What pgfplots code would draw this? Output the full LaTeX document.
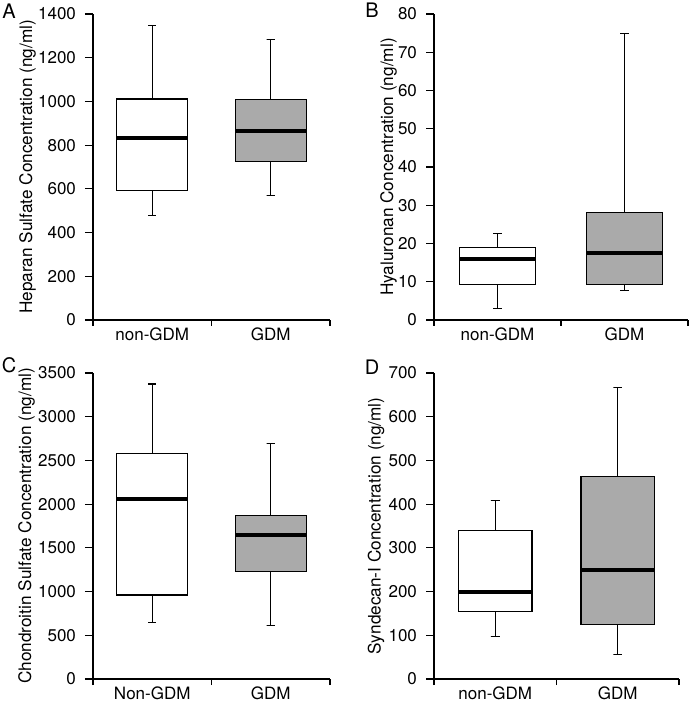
\documentclass[border=0pt]{standalone}
\usepackage{pgfplots}
\pgfplotsset{compat=1.18}
\usepackage{fontspec}
\setmainfont{TeX Gyre Heros}
\definecolor{boxgray}{RGB}{170,170,170}
\pgfplotsset{
  panel/.style={
    scale only axis,
    axis x line=bottom, axis y line=left,
    axis line style={-, line width=0.6pt},
    xmin=0, xmax=2, ymin=0,
    xtick={0.5,1.5},
    minor xtick={0,1,2},
    major x tick style={draw=none},
    tick align=outside,
    major tick length=4pt,
    minor tick length=3pt,
    tick style={line width=0.6pt, black},
    tick label style={font=\fontsize{8.5}{10}\selectfont},
    x tick label style={yshift=3.5pt},
    y tick label style={xshift=-1pt},
    label style={font=\fontsize{8.6}{10}\selectfont},
    /pgf/number format/assume math mode=true,
    /pgf/number format/set thousands separator={},
  },
  ylab/.style={ylabel style={at={(axis description cs:0,0.5)}, anchor=center, yshift=#1}},
  wbox/.style={solid, draw=black, fill=white, line width=0.6pt, mark=none},
  gbox/.style={solid, draw=black, fill=boxgray, line width=0.6pt, mark=none},
  wsk/.style={solid, black, line width=0.6pt, mark=none},
  med/.style={solid, black, line width=2pt, mark=none},
}
\begin{document}
\begin{tikzpicture}
\path[use as bounding box] (0,0) rectangle (345.5pt,351pt);
% A
\begin{axis}[panel, at={(46.5pt,191pt)}, anchor=south west,
  width=118.5pt, height=153pt, ymax=1400, ytick={0,200,...,1400},
  xticklabels={non-GDM,GDM}, ylab=32.75pt,
  ylabel={Heparan Sulfate Concentration (ng/ml)}]
% non-GDM: whiskers 477/1347, quartiles 592/1011, median 834
\addplot[wsk] coordinates {(0.5,1011) (0.5,1347) (0.465,1347) (0.535,1347)};
\addplot[wsk] coordinates {(0.5,592) (0.5,477) (0.465,477) (0.535,477)};
\addplot[wbox] coordinates {(0.2,592) (0.8,592) (0.8,1011) (0.2,1011)} -- cycle;
\addplot[med] coordinates {(0.2,834) (0.8,834)};
% GDM: whiskers 569/1283, quartiles 724/1010, median 866
\addplot[wsk] coordinates {(1.5,1010) (1.5,1283) (1.465,1283) (1.535,1283)};
\addplot[wsk] coordinates {(1.5,724) (1.5,569) (1.465,569) (1.535,569)};
\addplot[gbox] coordinates {(1.2,724) (1.8,724) (1.8,1010) (1.2,1010)} -- cycle;
\addplot[med] coordinates {(1.2,866) (1.8,866)};
\end{axis}
% B
\begin{axis}[panel, at={(217pt,191pt)}, anchor=south west,
  width=127pt, height=153pt, ymax=80, ytick={0,10,...,80},
  xticklabels={non-GDM,GDM}, ylab=22.75pt,
  ylabel={Hyaluronan Concentration (ng/ml)}]
\addplot[wsk] coordinates {(0.5,19.0) (0.5,22.7) (0.465,22.7) (0.535,22.7)};
\addplot[wsk] coordinates {(0.5,9.3) (0.5,3.1) (0.465,3.1) (0.535,3.1)};
\addplot[wbox] coordinates {(0.2,9.3) (0.8,9.3) (0.8,19.0) (0.2,19.0)} -- cycle;
\addplot[med] coordinates {(0.2,15.9) (0.8,15.9)};
\addplot[wsk] coordinates {(1.5,28.1) (1.5,75.0) (1.465,75.0) (1.535,75.0)};
\addplot[wsk] coordinates {(1.5,9.2) (1.5,7.7) (1.465,7.7) (1.535,7.7)};
\addplot[gbox] coordinates {(1.2,9.2) (1.8,9.2) (1.8,28.1) (1.2,28.1)} -- cycle;
\addplot[med] coordinates {(1.2,17.4) (1.8,17.4)};
\end{axis}
% C
\begin{axis}[panel, at={(46.5pt,11.5pt)}, anchor=south west,
  width=118.5pt, height=153pt, ymax=3500, ytick={0,500,...,3500},
  xticklabels={Non-GDM,GDM}, ylab=33.25pt,
  ylabel={Chondroitin Sulfate Concentration (ng/ml)}]
\addplot[wsk] coordinates {(0.5,2581) (0.5,3374) (0.465,3374) (0.535,3374)};
\addplot[wsk] coordinates {(0.5,961) (0.5,648) (0.465,648) (0.535,648)};
\addplot[wbox] coordinates {(0.2,961) (0.8,961) (0.8,2581) (0.2,2581)} -- cycle;
\addplot[med] coordinates {(0.2,2059) (0.8,2059)};
\addplot[wsk] coordinates {(1.5,1872) (1.5,2692) (1.465,2692) (1.535,2692)};
\addplot[wsk] coordinates {(1.5,1228) (1.5,610) (1.465,610) (1.535,610)};
\addplot[gbox] coordinates {(1.2,1228) (1.8,1228) (1.8,1872) (1.2,1872)} -- cycle;
\addplot[med] coordinates {(1.2,1651) (1.8,1651)};
\end{axis}
% D
\begin{axis}[panel, at={(217pt,11.5pt)}, anchor=south west,
  width=122.5pt, height=153pt, ymax=700, ytick={0,100,...,700},
  xticklabels={non-GDM,GDM}, ylab=29pt,
  ylabel={Syndecan-I Concentration (ng/ml)}]
\addplot[wsk] coordinates {(0.5,339) (0.5,409) (0.465,409) (0.535,409)};
\addplot[wsk] coordinates {(0.5,154) (0.5,98) (0.465,98) (0.535,98)};
\addplot[wbox] coordinates {(0.2,154) (0.8,154) (0.8,339) (0.2,339)} -- cycle;
\addplot[med] coordinates {(0.2,199) (0.8,199)};
\addplot[wsk] coordinates {(1.5,464) (1.5,666) (1.465,666) (1.535,666)};
\addplot[wsk] coordinates {(1.5,125) (1.5,56) (1.465,56) (1.535,56)};
\addplot[gbox] coordinates {(1.2,125) (1.8,125) (1.8,464) (1.2,464)} -- cycle;
\addplot[med] coordinates {(1.2,249) (1.8,249)};
\end{axis}
\node[font=\fontsize{10}{11}\selectfont] at (4.5pt,345.5pt) {A};
\node[font=\fontsize{10}{11}\selectfont] at (186pt,346pt) {B};
\node[font=\fontsize{10}{11}\selectfont] at (4.5pt,168.5pt) {C};
\node[font=\fontsize{10}{11}\selectfont] at (186pt,167.5pt) {D};
\end{tikzpicture}
\end{document}
